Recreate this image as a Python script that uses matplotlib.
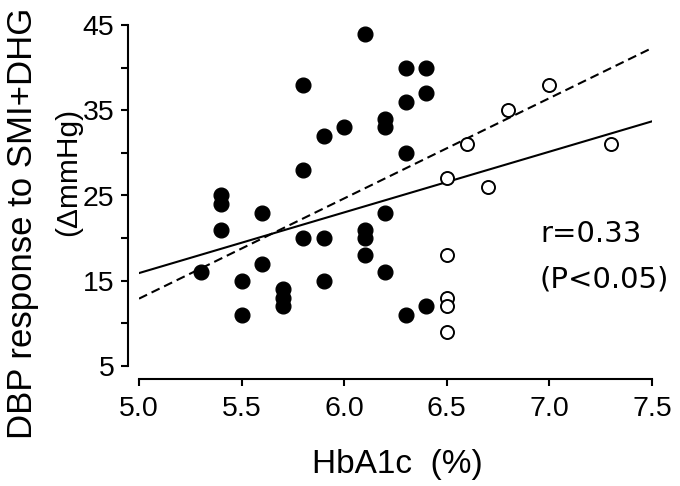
import matplotlib
matplotlib.use("Agg")
import matplotlib.pyplot as plt
from matplotlib.ticker import MultipleLocator

plt.rcParams['font.family'] = ['Liberation Sans', 'DejaVu Sans']

# filled circles
filled_x = [6.1, 6.3, 6.4, 6.3, 6.4, 5.8, 5.9, 6.0, 6.2, 6.2, 6.3, 5.8, 5.4, 5.4, 5.4, 5.6, 6.2,
            5.8, 5.9, 6.1, 6.1, 6.1, 5.6, 5.3, 6.2, 5.5, 5.9, 5.7, 5.7, 5.7, 5.5, 6.3, 6.4]
filled_y = [44, 40, 40, 36, 37, 38, 32, 33, 34, 33, 30, 28, 25, 24, 21, 23, 23,
            20, 20, 21, 20, 18, 17, 16, 16, 15, 15, 14, 13, 12, 11, 11, 12]

# open circles
open_x = [7.0, 6.8, 6.6, 7.3, 6.5, 6.7, 6.5, 6.5, 6.5, 6.5]
open_y = [38, 35, 31, 31, 27, 26, 18, 13, 12, 9]

# fit lines
fit_x = [5.0, 7.5]
solid_y = [15.9, 33.7]
dashed_y = [12.9, 42.3]

W, H = 680, 486
fig = plt.figure(figsize=(W / 100, H / 100), dpi=100)
ax = fig.add_axes([139/W, 1 - 366/H, 513/W, 341/H])

ax.plot(fit_x, solid_y, color='black', lw=1.5, zorder=2)
ax.plot(fit_x, dashed_y, color='black', lw=1.5, ls=(0, (4.3, 2.4)), zorder=2)
ax.scatter(filled_x, filled_y, s=112, color='black', zorder=3, clip_on=False)
ax.scatter(open_x, open_y, s=88, facecolor='white', edgecolor='black', linewidths=1.4,
           zorder=3, clip_on=False)

ax.set_xlim(5.0, 7.5)
ax.set_ylim(5, 45)
ax.set_xticks([5.0, 5.5, 6.0, 6.5, 7.0, 7.5])
ax.set_xticklabels(['5.0', '5.5', '6.0', '6.5', '7.0', '7.5'])
ax.set_yticks([5, 15, 25, 35, 45])
ax.yaxis.set_minor_locator(MultipleLocator(5))

for s in ['top', 'right']:
    ax.spines[s].set_visible(False)
ax.spines['left'].set_position(('outward', 8.0))
ax.spines['bottom'].set_position(('outward', 9.0))
ax.spines['left'].set_linewidth(1.5)
ax.spines['bottom'].set_linewidth(1.5)
ax.tick_params(axis='both', which='both', direction='out', width=1.5, length=4.8,
               labelsize=20.5, color='black')
ax.tick_params(axis='x', pad=7.5)
ax.tick_params(axis='y', pad=5)

fig.text(397/W, 13/H, 'HbA1c  (%)', ha='center', va='baseline', fontsize=24)

fig.text(32/W, 1 - 223/H, 'DBP response to SMI+DHG', rotation=90, rotation_mode='anchor',
         ha='center', va='baseline', fontsize=25)
fig.text(76/W, 1 - 172/H, '(ΔmmHg)', rotation=90, rotation_mode='anchor',
         ha='center', va='baseline', fontsize=21.5)

fig.text(540/W, 1 - 242/H, 'r=0.33', fontsize=21, ha='left', va='baseline',
         family='DejaVu Sans')
fig.text(540/W, 1 - 287/H, '(P<0.05)', fontsize=21, ha='left', va='baseline',
         family='DejaVu Sans')

fig.savefig('out.png', dpi=100)
